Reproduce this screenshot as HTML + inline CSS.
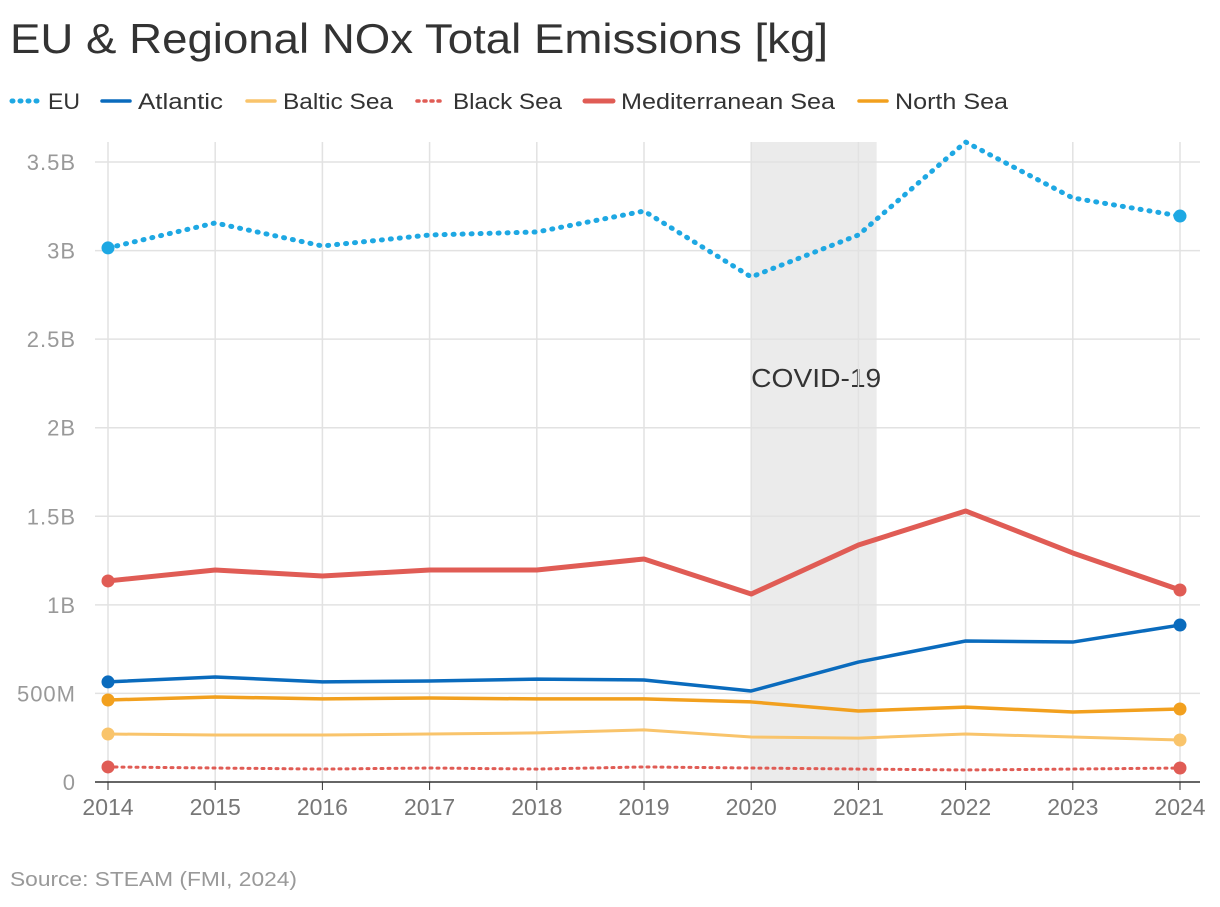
<!DOCTYPE html>
<html><head><meta charset="utf-8"><style>
body{margin:0;background:#fff;font-family:"Liberation Sans",sans-serif;}
</style></head><body>
<svg id="chart" width="1220" height="902" xmlns="http://www.w3.org/2000/svg">
<text x="10" y="53" font-size="42" fill="#333" textLength="818" lengthAdjust="spacingAndGlyphs">EU &amp; Regional NOx Total Emissions [kg]</text>
<g id="legend"></g>
<g id="grid"></g>
<g id="series"></g>
<text x="10" y="886" font-size="20" fill="#999" textLength="287" lengthAdjust="spacingAndGlyphs">Source: STEAM (FMI, 2024)</text>
</svg>
<script>
const years=[2014,2015,2016,2017,2018,2019,2020,2021,2022,2023,2024];
const yTicks=[0,0.5,1,1.5,2,2.5,3,3.5];
const yTickLabels=["0","500M","1B","1.5B","2B","2.5B","3B","3.5B"];
const euVals=[3.015,3.156,3.026,3.088,3.105,3.223,2.851,3.088,3.613,3.297,3.195];
const atlanticVals=[0.565,0.593,0.565,0.570,0.581,0.576,0.514,0.677,0.796,0.790,0.886];
const balticVals=[0.271,0.265,0.265,0.271,0.277,0.294,0.254,0.248,0.271,0.254,0.237];
const blackVals=[0.085,0.079,0.073,0.079,0.073,0.085,0.079,0.073,0.068,0.073,0.079];
const medVals=[1.135,1.197,1.163,1.197,1.197,1.259,1.061,1.338,1.530,1.293,1.084];
const northVals=[0.463,0.480,0.469,0.474,0.469,0.469,0.452,0.401,0.423,0.395,0.412];
const covidStart=2020, covidEnd=2021.17;

const NS="http://www.w3.org/2000/svg";
const x=y=>108+(y-2014)*107.2;
const yS=v=>782-v*177.14;
function el(tag,attrs,parent){const e=document.createElementNS(NS,tag);for(const k in attrs)e.setAttribute(k,attrs[k]);parent.appendChild(e);return e;}
const grid=document.getElementById('grid'),ser=document.getElementById('series'),leg=document.getElementById('legend');

const band=el('rect',{x:x(covidStart),y:142,width:x(covidEnd)-x(covidStart),height:640,fill:'#ebebeb'},grid);


const bl=el('text',{x:x(covidStart),y:387,'font-size':26,fill:'#333',textLength:130,lengthAdjust:'spacingAndGlyphs'},grid);bl.textContent='COVID-19';



yTicks.forEach((t,i)=>{
 if(t>0){const l=el('line',{x1:95,x2:1200,y1:yS(t),y2:yS(t),stroke:'#e2e2e2','stroke-width':1.5},grid);
 
 }
 const tx=el('text',{x:76,y:yS(t)+8,'font-size':22,'letter-spacing':1,fill:'#999','text-anchor':'end'},grid);tx.textContent=yTickLabels[i];
 
 
});
years.forEach(yr=>{
 const l=el('line',{x1:x(yr),x2:x(yr),y1:142,y2:782,stroke:'#e2e2e2','stroke-width':1.5},grid);
 
 
 const t=el('line',{x1:x(yr),x2:x(yr),y1:782,y2:790,stroke:'#333','stroke-width':1},grid);
 
 
 const tx=el('text',{x:x(yr),y:815,'font-size':23,fill:'#777','text-anchor':'middle'},grid);tx.textContent=yr;
 
 
});
const ax=el('line',{x1:95,x2:1200,y1:782,y2:782,stroke:'#333','stroke-width':1.5},grid);



const series=[
 {n:'Baltic Sea',v:balticVals,c:'#f9c46b',w:3,d:null,id:'baltic'},
 {n:'Black Sea',v:blackVals,c:'#e05c55',w:3,d:'2 5',id:'black'},
 {n:'North Sea',v:northVals,c:'#f2a01e',w:3.5,d:null,id:'north'},
 {n:'Atlantic',v:atlanticVals,c:'#0a6bbd',w:3.5,d:null,id:'atlantic'},
 {n:'Mediterranean Sea',v:medVals,c:'#e05c55',w:5,d:null,id:'mediterranean'},
 {n:'EU',v:euVals,c:'#1ea8e3',w:5,d:'1 8',id:'eu'}
];
series.forEach(s=>{
 const p=el('path',{d:s.v.map((v,i)=>(i?'L':'M')+x(years[i])+','+yS(v)).join(''),fill:'none',stroke:s.c,'stroke-width':s.w,'stroke-linecap':'round','stroke-linejoin':'round'},ser);
 if(s.d)p.setAttribute('stroke-dasharray',s.d);
 
 
 [0,s.v.length-1].forEach(i=>{
  const c=el('circle',{cx:x(years[i]),cy:yS(s.v[i]),r:6.5,fill:s.c},ser);
  
  
 });
});
const legItems=[['EU','#1ea8e3','1 7',10,32],['Atlantic','#0a6bbd',null,100,85],['Baltic Sea','#f9c46b',null,245,110],['Black Sea','#e05c55','2 5',415,109],['Mediterranean Sea','#e05c55',null,583,214],['North Sea','#f2a01e',null,857,113]];
legItems.forEach(it=>{
 const g=el('g',{},leg);
 
 
 const l=el('line',{x1:it[3]+2,x2:it[3]+30,y1:101,y2:101,stroke:it[1],'stroke-width':it[0]==='Mediterranean Sea'||it[0]==='EU'?5:3.5,'stroke-linecap':'round'},g);
 if(it[2])l.setAttribute('stroke-dasharray',it[2]);
 const t=el('text',{x:it[3]+38,y:109,'font-size':22,fill:'#333',textLength:it[4],lengthAdjust:'spacingAndGlyphs'},g);t.textContent=it[0];
});
</script>
</body></html>
